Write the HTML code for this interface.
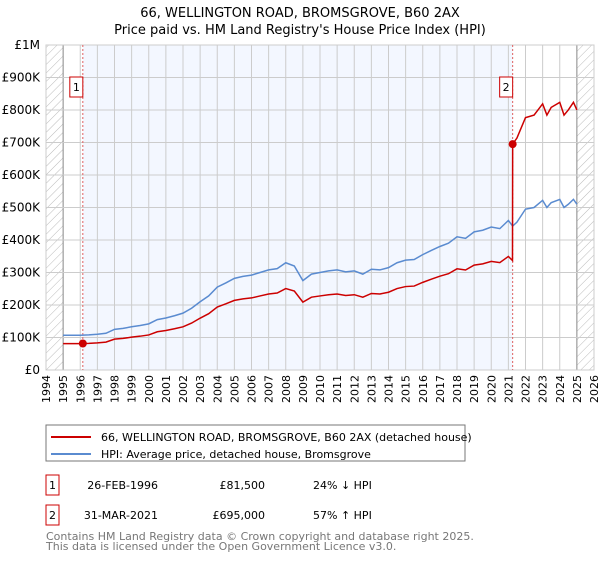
<!DOCTYPE html>
<html><head><meta charset="utf-8">
<style>
body{margin:0;width:600px;height:560px;background:#fff;font-family:"Liberation Sans","DejaVu Sans",sans-serif;overflow:hidden}
</style></head><body>
<svg width="600" height="560" xmlns="http://www.w3.org/2000/svg" font-family="DejaVu Sans, Liberation Sans, sans-serif">
<defs><pattern id="hatch" width="6" height="6" patternUnits="userSpaceOnUse" patternTransform="rotate(45)"><line x1="0" y1="0" x2="0" y2="6" stroke="#bbb" stroke-width="1"/></pattern></defs>
<g>
<text x="300" y="17" text-anchor="middle" font-size="13">66, WELLINGTON ROAD, BROMSGROVE, B60 2AX</text>
<text x="300" y="34" text-anchor="middle" font-size="13">Price paid vs. HM Land Registry's House Price Index (HPI)</text>
</g>
<g id="plot"></g>
<g>
<rect x="46" y="425" width="419" height="36" fill="#fff" stroke="#777"/>
<line x1="51" y1="437" x2="91" y2="437" stroke="#cc0000" stroke-width="2"/>
<text x="101" y="441" font-size="11">66, WELLINGTON ROAD, BROMSGROVE, B60 2AX (detached house)</text>
<line x1="51" y1="454" x2="91" y2="454" stroke="#5a8bd0" stroke-width="2"/>
<text x="101" y="458" font-size="11">HPI: Average price, detached house, Bromsgrove</text>
</g>
<g font-size="11">
<rect x="46" y="475" width="13" height="20" fill="#fff" stroke="#cc0000"/><text x="52.5" y="489" text-anchor="middle">1</text>
<text x="158" y="489" text-anchor="end">26-FEB-1996</text><text x="265" y="489" text-anchor="end">£81,500</text><text x="313" y="489">24% ↓ HPI</text>
<rect x="46" y="505" width="13" height="20" fill="#fff" stroke="#cc0000"/><text x="52.5" y="519" text-anchor="middle">2</text>
<text x="158" y="519" text-anchor="end">31-MAR-2021</text><text x="265" y="519" text-anchor="end">£695,000</text><text x="313" y="519">57% ↑ HPI</text>
</g>
<g font-size="11" fill="#777">
<text x="46" y="540">Contains HM Land Registry data © Crown copyright and database right 2025.</text>
<text x="46" y="550">This data is licensed under the Open Government Licence v3.0.</text>
</g>
</svg>
<script>
const hpiYears=[1995,1995.5,1996,1996.5,1997,1997.5,1998,1998.5,1999,1999.5,2000,2000.5,2001,2001.5,2002,2002.5,2003,2003.5,2004,2004.5,2005,2005.5,2006,2006.5,2007,2007.5,2008,2008.5,2009,2009.5,2010,2010.5,2011,2011.5,2012,2012.5,2013,2013.5,2014,2014.5,2015,2015.5,2016,2016.5,2017,2017.5,2018,2018.5,2019,2019.5,2020,2020.5,2021,2021.25,2021.5,2022,2022.5,2023,2023.25,2023.5,2024,2024.25,2024.5,2024.8,2025];
const hpiValues=[107,107,107,108,110,113,125,128,133,137,142,155,160,167,175,190,210,228,255,268,282,288,292,300,308,312,330,320,275,295,300,305,308,302,305,295,310,308,315,330,338,340,355,368,380,390,410,405,425,430,440,435,460,443,455,495,500,522,500,515,525,500,510,525,510];
const saleYears=[1996.15,2021.25];
const salePrices=[81.5,695];
const yTicks=[0,100,200,300,400,500,600,700,800,900,1000];
const yTickLabels=["£0","£100K","£200K","£300K","£400K","£500K","£600K","£700K","£800K","£900K","£1M"];
const xTicks=[1994,1995,1996,1997,1998,1999,2000,2001,2002,2003,2004,2005,2006,2007,2008,2009,2010,2011,2012,2013,2014,2015,2016,2017,2018,2019,2020,2021,2022,2023,2024,2025,2026];

const NS="http://www.w3.org/2000/svg";
const L=46,R=594,T=45,B=370;
const x=y=>L+(y-1994)/(2026-1994)*(R-L);
const yv=v=>B-v/1000*(B-T);
const g=document.getElementById('plot');
function mk(t,a){const e=document.createElementNS(NS,t);for(const k in a)e.setAttribute(k,a[k]);g.appendChild(e);return e;}
let e=mk('rect',{x:x(saleYears[0]),y:T,width:x(saleYears[1])-x(saleYears[0]),height:B-T,fill:'#f3f7ff'});

e=mk('rect',{x:x(1994),y:T,width:x(1995)-x(1994),height:B-T,fill:'url(#hatch)'});

e=mk('rect',{x:x(2025),y:T,width:x(2026)-x(2025),height:B-T,fill:'url(#hatch)'});

xTicks.forEach(t=>{const l=mk('line',{x1:x(t),x2:x(t),y1:T,y2:B,stroke:(t==1995||t==2025)?'#888':'#ccc','stroke-width':1});

const tx=mk('text',{x:0,y:0,'font-size':11,'text-anchor':'end',transform:`translate(${x(t)+4},375) rotate(-90)`});tx.textContent=t;
});
yTicks.forEach((t,i)=>{const l=mk('line',{x1:L,x2:R,y1:yv(t),y2:yv(t),stroke:'#ccc','stroke-width':1});

const tx=mk('text',{x:40,y:yv(t)+4,'font-size':12,'text-anchor':'end'});tx.textContent=yTickLabels[i];
});
e=mk('rect',{x:L,y:T,width:R-L,height:B-T,fill:'none',stroke:'#ccc'});

saleYears.forEach((s,i)=>{const l=mk('line',{x1:x(s),x2:x(s),y1:T,y2:B,stroke:'#e06060','stroke-dasharray':'2,2','stroke-width':1});
});
function interp(yr){for(let i=0;i<hpiYears.length-1;i++){if(yr>=hpiYears[i]&&yr<=hpiYears[i+1]){const f=(yr-hpiYears[i])/(hpiYears[i+1]-hpiYears[i]);return hpiValues[i]+f*(hpiValues[i+1]-hpiValues[i]);}}return hpiValues[hpiValues.length-1];}
let p=hpiYears.map((yr,i)=>x(yr)+','+yv(hpiValues[i])).join(' ');
e=mk('polyline',{points:p,fill:'none',stroke:'#5a8bd0','stroke-width':1.5});

const r0=salePrices[0]/interp(saleYears[0]),r1=salePrices[1]/interp(saleYears[1]);
let pts=[];
hpiYears.forEach((yr,i)=>{if(yr<saleYears[1])pts.push([yr,hpiValues[i]*r0]);});
pts.push([saleYears[1]-0.01,interp(saleYears[1]-0.01)*r0]);
pts.push([saleYears[1],salePrices[1]]);
hpiYears.forEach((yr,i)=>{if(yr>saleYears[1])pts.push([yr,hpiValues[i]*r1]);});
e=mk('polyline',{points:pts.map(q=>x(q[0])+','+yv(q[1])).join(' '),fill:'none',stroke:'#cc0000','stroke-width':1.5});

saleYears.forEach((s,i)=>{const c=mk('circle',{cx:x(s),cy:yv(salePrices[i]),r:4,fill:'#cc0000'});

const bx=mk('rect',{x:x(s)-13,y:77,width:13,height:20,fill:'#fff',stroke:'#cc0000'});

const t=mk('text',{x:x(s)-6.5,y:91,'font-size':11,'text-anchor':'middle'});t.textContent=i+1;
});
</script>
</body></html>
